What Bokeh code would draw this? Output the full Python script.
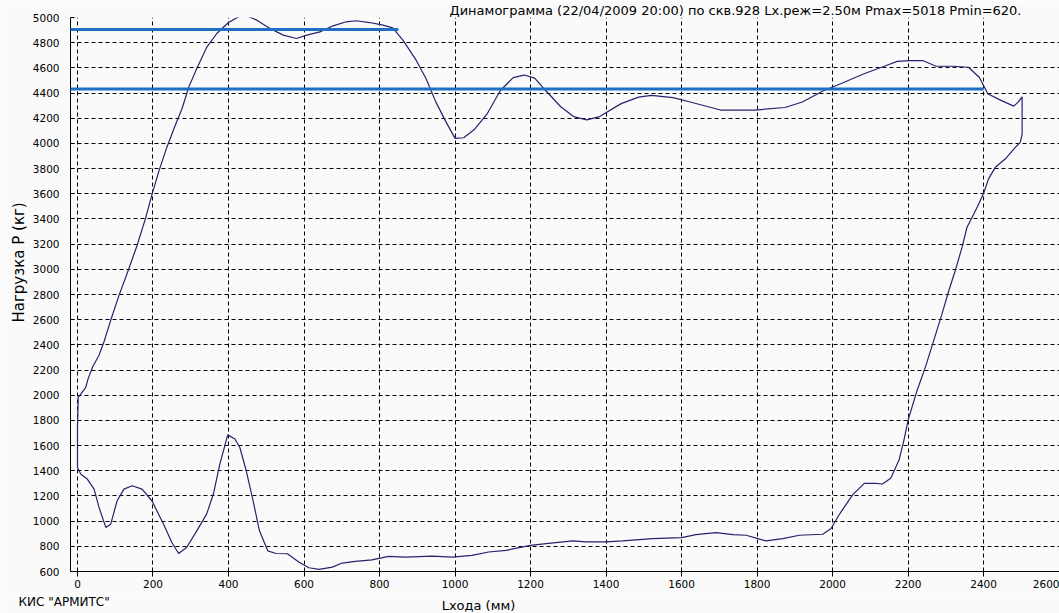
import numpy as np
from bokeh.plotting import figure
from bokeh.layouts import column
from bokeh.models import BoxAnnotation, SingleIntervalTicker, Range1d, Title
from bokeh.core.properties import value
from bokeh.embed import file_html
from bokeh.resources import INLINE

# Dynamogram loop: stroke (mm) vs load (kg)
stroke_mm = [0, 0, 2, 10, 22, 28, 40, 57, 70, 88,
             110, 136, 158, 180, 198, 215, 237, 259, 277, 295,
             316, 343, 369, 400, 426, 445, 475, 510, 545, 580,
             607, 642, 677, 712, 738, 774, 809, 835, 862, 897,
             923, 949, 976, 1000, 1023, 1051, 1086, 1120, 1154, 1183,
             1211, 1240, 1280, 1314, 1349, 1383, 1440, 1486, 1520, 1577,
             1623, 1703, 1794, 1874, 1920, 1977, 2023, 2080, 2137, 2171,
             2206, 2240, 2274, 2320, 2360, 2389, 2411, 2446, 2480, 2492,
             2502, 2502, 2497, 2484, 2457, 2431, 2413, 2400, 2387, 2374,
             2356, 2343, 2325, 2308, 2290, 2268, 2246, 2224, 2200, 2189,
             2176, 2154, 2132, 2114, 2084, 2053, 2026, 2014, 1996, 1974,
             1912, 1868, 1824, 1802, 1771, 1736, 1691, 1638, 1600, 1523,
             1444, 1400, 1347, 1312, 1241, 1200, 1135, 1089, 1045, 993,
             940, 868, 824, 780, 736, 701, 675, 640, 613, 587,
             556, 526, 504, 482, 465, 447, 430, 417, 398, 377,
             360, 342, 316, 289, 268, 250, 228, 197, 171, 145,
             123, 105, 88, 75, 57, 44, 26, 9, 0]
load_kg = [1426, 1744, 1983, 2015, 2062, 2130, 2224, 2317, 2423, 2595,
           2793, 3005, 3191, 3403, 3601, 3774, 3972, 4144, 4277, 4449,
           4595, 4767, 4873, 4960, 5005, 5018, 4979, 4913, 4860, 4833,
           4860, 4886, 4934, 4966, 4974, 4960, 4939, 4918, 4820, 4661,
           4515, 4330, 4171, 4040, 4045, 4110, 4239, 4420, 4523, 4543,
           4518, 4420, 4291, 4213, 4187, 4213, 4316, 4368, 4381, 4363,
           4329, 4265, 4265, 4285, 4329, 4420, 4476, 4549, 4613, 4652,
           4657, 4657, 4613, 4613, 4605, 4523, 4394, 4342, 4296, 4330,
           4370, 4074, 4008, 3969, 3876, 3810, 3718, 3604, 3519, 3440,
           3334, 3176, 2991, 2832, 2648, 2436, 2225, 2040, 1802, 1644,
           1485, 1340, 1295, 1300, 1300, 1208, 1089, 1035, 941, 896,
           888, 861, 843, 861, 888, 893, 909, 893, 869, 861,
           843, 835, 835, 843, 821, 808, 768, 755, 728, 714,
           722, 714, 720, 693, 680, 667, 635, 617, 630, 674,
           741, 743, 764, 923, 1162, 1400, 1585, 1652, 1685, 1453,
           1215, 1056, 923, 791, 743, 830, 976, 1162, 1254, 1281,
           1254, 1162, 976, 950, 1109, 1254, 1334, 1373, 1426]

# Overlay reference levels (blue bars)
level_loads = [4905, 4432]
level_ends = [850, 2400]

title_text = "Динамограмма (22/04/2009 20:00) по скв.928 Lx.реж=2.50м  Pmax=5018 Pmin=620."
x_label = "Lхода (мм)"
y_label = "Нагрузка P (кг)"
footer = 'КИС "АРМИТС"'

FONT = "DejaVu Sans"
BG = "#fafafa"

p = figure(width=1059, height=593,
           x_range=Range1d(-18.5, 2601), y_range=Range1d(600, 5000),
           output_backend="svg", toolbar_location=None,
           min_border_left=70, min_border_right=0, min_border_top=16, min_border_bottom=22,
           background_fill_color=BG, border_fill_color=BG, outline_line_color=None)

p.title.text = title_text
p.title.align = "left"
p.title.offset = 379
p.title.standoff = 0
p.title.text_font = FONT
p.title.text_font_size = "13px"
p.title.text_font_style = "normal"
p.title.text_color = "black"

# vertical caption: align "left" = starts at the frame bottom, offset moves it up
p.add_layout(Title(text=y_label, align="left", offset=249, standoff=4,
                   text_font=FONT, text_font_size="15px", text_font_style="normal",
                   text_color="black"), "left")

p.xaxis.ticker = SingleIntervalTicker(interval=200)
p.yaxis.ticker = SingleIntervalTicker(interval=200)
p.xgrid.ticker = SingleIntervalTicker(interval=200)
p.ygrid.ticker = SingleIntervalTicker(interval=200)

for g in (p.xgrid, p.ygrid):
    g.grid_line_color = "black"
    g.grid_line_dash = "4 3"
    g.grid_line_width = 1
    g.grid_line_alpha = 1

for ax in (p.xaxis, p.yaxis):
    ax.axis_line_color = "black"
    ax.axis_line_width = 1
    ax.major_tick_line_color = "black"
    ax.minor_tick_line_color = None
    ax.major_label_text_font = FONT
    ax.major_label_text_font_size = "10.5px"
    ax.major_label_text_color = "black"

p.xaxis.major_tick_out = 5
p.xaxis.major_tick_in = 0
p.xaxis.major_label_standoff = 3
p.yaxis.major_tick_out = 0
p.yaxis.major_tick_in = 4
p.yaxis.major_label_standoff = 7

p.line(stroke_mm, load_kg, line_color="#24246e", line_width=1.2)

for lvl, end in zip(level_loads, level_ends):
    p.add_layout(BoxAnnotation(left=0, left_units="canvas", right=end,
                               top=lvl + 12, bottom=lvl - 12,
                               fill_color="#1f6fc2", fill_alpha=1,
                               line_color=None, level="overlay"))

# Bottom strip holding the footer and the x-axis caption
q = figure(width=1059, height=20, x_range=Range1d(0, 1059), y_range=Range1d(0, 20),
           output_backend="svg", toolbar_location=None,
           x_axis_location=None, y_axis_location=None,
           min_border_left=0, min_border_right=0, min_border_top=0, min_border_bottom=0,
           background_fill_color=BG, border_fill_color=BG, outline_line_color=None)
q.grid.visible = False
try:
    q.title = None
except Exception:
    pass
if "frame_align" in q.properties():
    q.frame_align = False
    p.frame_align = False
q.text(x=[18], y=[12], text=[footer], text_font=value(FONT), text_font_size="12px",
       text_color="black", text_baseline="alphabetic", text_align="left")
q.text(x=[478], y=[8], text=[x_label], text_font=value(FONT), text_font_size="13px",
       text_color="black", text_baseline="alphabetic", text_align="center")

layout = column(p, q, spacing=0)

open("out.html", "w").write(file_html(layout, INLINE))
